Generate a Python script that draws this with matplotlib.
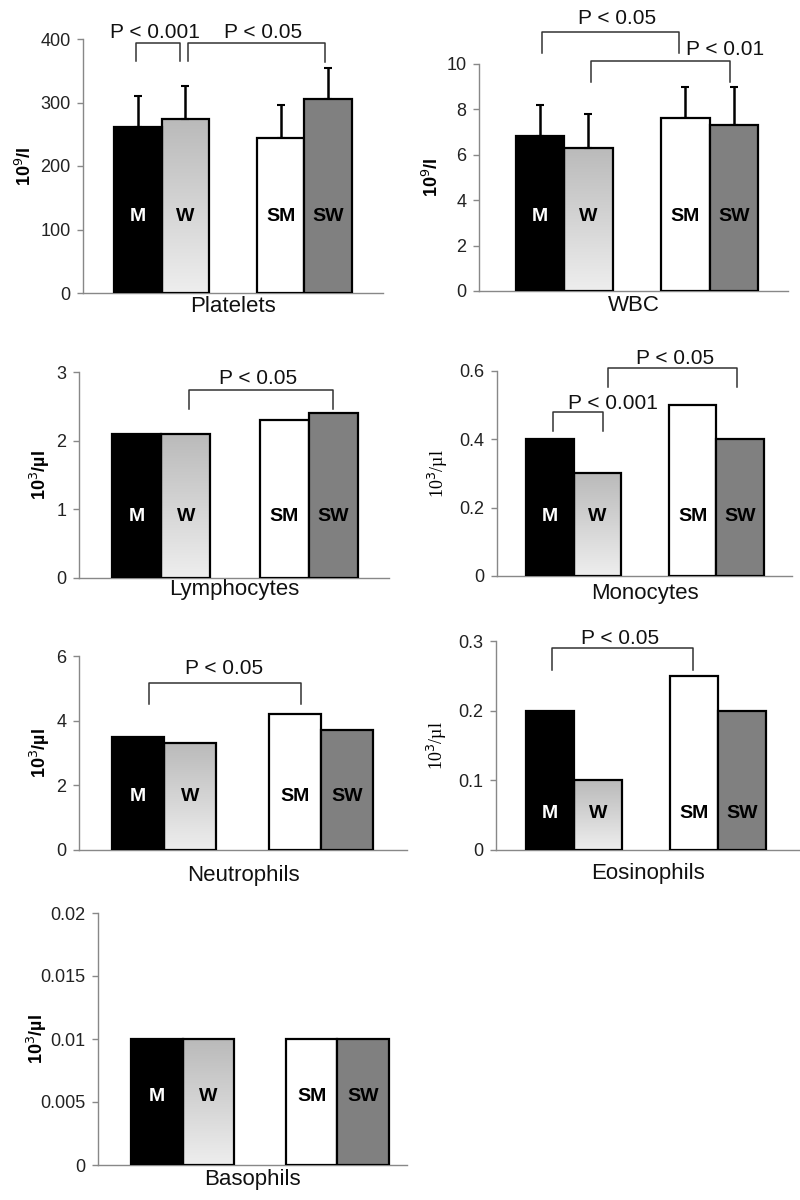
import numpy as np
import matplotlib
matplotlib.use("Agg")
import matplotlib.pyplot as plt
from matplotlib.colors import LinearSegmentedColormap
from matplotlib.ticker import FuncFormatter

plt.rcParams['font.family'] = ['Liberation Sans', 'DejaVu Sans']

# data
groups = ["M", "W", "SM", "SW"]
group_x = [0, 1, 3, 4]

platelets = [261, 274, 244, 305]
platelets_err = [49, 52, 52, 49]
wbc = [6.85, 6.3, 7.6, 7.3]
wbc_err = [1.35, 1.5, 1.4, 1.7]
lymphocytes = [2.1, 2.1, 2.3, 2.4]
monocytes = [0.4, 0.3, 0.5, 0.4]
neutrophils = [3.5, 3.3, 4.2, 3.7]
eosinophils = [0.2, 0.1, 0.25, 0.2]
basophils = [0.01, 0.01, 0.01, 0.01]

titles = ["Platelets", "WBC", "Lymphocytes", "Monocytes", "Neutrophils", "Eosinophils", "Basophils"]
ylabels = ["10$^9$/l", "10$^9$/l", "10$^3$/\u00b5l", "10$^3$/\u00b5l", "10$^3$/\u00b5l", "10$^3$/\u00b5l", "10$^3$/\u00b5l"]
yticks = [
    [0, 100, 200, 300, 400],
    [0, 2, 4, 6, 8, 10],
    [0, 1, 2, 3],
    [0, 0.2, 0.4, 0.6],
    [0, 2, 4, 6],
    [0, 0.1, 0.2, 0.3],
    [0, 0.005, 0.01, 0.015, 0.02],
]

# significance brackets: (x_left, x_right, top, leg_left, leg_right, label, text_x, text_y)
brackets = [
    [(-0.04, 0.89, 394, 365, 365, "P < 0.001", 0.36, 411),
     (1.05, 3.93, 394, 365, 363, "P < 0.05", 2.63, 411)],
    [(0.04, 2.87, 11.4, 10.5, 10.5, "P < 0.05", 1.6, 12.0),
     (1.05, 3.92, 10.13, 9.2, 9.2, "P < 0.01", 3.82, 10.66)],
    [(1.07, 3.99, 2.74, 2.46, 2.46, "P < 0.05", 2.47, 2.9)],
    [(0.07, 1.12, 0.48, 0.425, 0.425, "P < 0.001", 1.33, 0.506),
     (1.22, 3.93, 0.609, 0.553, 0.553, "P < 0.05", 2.63, 0.638)],
    [(0.21, 3.12, 5.17, 4.52, 4.52, "P < 0.05", 1.65, 5.6)],
    [(0.04, 2.98, 0.29, 0.258, 0.258, "P < 0.05", 1.46, 0.303)],
    [],
]

values = [platelets, wbc, lymphocytes, monocytes, neutrophils, eosinophils, basophils]
errors = [platelets_err, wbc_err, None, None, None, None, None]

# layout in pixels: axis left, right, bottom, top ; xlim ; label height ; ylabel x px ; xlabel offset px
W, H = 800, 1200
panels = [
    dict(box=(83, 383, 293, 39), xlim=(-1.15, 5.15), lab=120, ylx=25, xlo=13, serif=False),
    dict(box=(479, 788, 291, 64), xlim=(-1.26, 5.12), lab=3.26, ylx=432, xlo=15, serif=False),
    dict(box=(79, 389, 578, 372), xlim=(-1.17, 5.13), lab=0.89, ylx=40, xlo=11, serif=False),
    dict(box=(497, 792, 576, 371), xlim=(-1.11, 5.09), lab=0.173, ylx=438, xlo=18, serif=True),
    dict(box=(79, 407, 850, 656), xlim=(-1.13, 5.15), lab=1.64, ylx=40, xlo=26, serif=False),
    dict(box=(496, 800, 850, 641), xlim=(-1.125, 5.21), lab=0.053, ylx=437, xlo=24, serif=True),
    dict(box=(98, 407, 1165, 913), xlim=(-1.14, 4.85), lab=0.0054, ylx=37, xlo=14, serif=False),
]

label_colors = ["white", "black", "black", "black"]
grad = LinearSegmentedColormap.from_list("wgrad", ["#eeeeee", "#bababa"])

fig = plt.figure(figsize=(8, 12), dpi=100)

for i, p in enumerate(panels):
    l, r, b, t = p["box"]
    ax = fig.add_axes([l / W, 1 - b / H, (r - l) / W, (b - t) / H])
    vals = values[i]
    ymax = yticks[i][-1]

    bars = ax.bar(group_x, vals, width=1.0, color=["black", "none", "white", "#808080"],
                  edgecolor="black", linewidth=1.6, zorder=3)
    # gradient fill for W bar
    wb = bars[1]
    img = ax.imshow(np.linspace(0, 1, 256).reshape(-1, 1), cmap=grad, aspect="auto",
                    origin="lower", extent=[group_x[1] - 0.5, group_x[1] + 0.5, 0, vals[1]],
                    zorder=2)
    img.set_clip_path(wb)

    if errors[i] is not None:
        ax.errorbar(group_x, vals, yerr=[np.zeros(4), errors[i]], fmt="none",
                    ecolor="black", elinewidth=1.8, capsize=3, capthick=1.5, zorder=2)

    for gx, g, c in zip(group_x, groups, label_colors):
        ax.text(gx, p["lab"], g, ha="center", va="center", fontsize=14,
                fontweight="bold", color=c, zorder=5)

    for (x1, x2, top, l1, l2, txt, tx, ty) in brackets[i]:
        ax.plot([x1, x1, x2, x2], [l1, top, top, l2], color="#333333", lw=1.1,
                clip_on=False, zorder=4)
        ax.text(tx, ty, txt, ha="center", va="center", fontsize=15, color="#111111")

    ax.set_xlim(*p["xlim"])
    ax.set_ylim(0, ymax)
    ax.set_yticks(yticks[i])
    ax.yaxis.set_major_formatter(FuncFormatter(lambda v, pos: "{:g}".format(round(v, 6))))
    ax.set_xticks([])
    for s in ["top", "right"]:
        ax.spines[s].set_visible(False)
    for s in ["left", "bottom"]:
        ax.spines[s].set_color("#888888")
        ax.spines[s].set_linewidth(1.0)
    ax.tick_params(axis="y", direction="out", length=4, width=1.0, color="#888888",
                   labelsize=13, labelcolor="#222222", pad=5)

    # y label
    ylx = (p["ylx"] - l) / (r - l)
    if p["serif"]:
        ax.text(ylx, 0.5, ylabels[i], rotation=90, ha="center", va="center",
                transform=ax.transAxes, fontsize=13,
                family=["Liberation Serif", "DejaVu Serif"])
    else:
        ax.text(ylx, 0.5, ylabels[i], rotation=90, ha="center", va="center",
                transform=ax.transAxes, fontsize=13, fontweight="bold")

    # x label (panel title under axis)
    ax.annotate(titles[i], xy=(0.5, 0), xycoords="axes fraction",
                xytext=(0, -p["xlo"]), textcoords="offset pixels",
                ha="center", va="center", fontsize=16, color="#111111")

fig.savefig("out.png", dpi=100)
